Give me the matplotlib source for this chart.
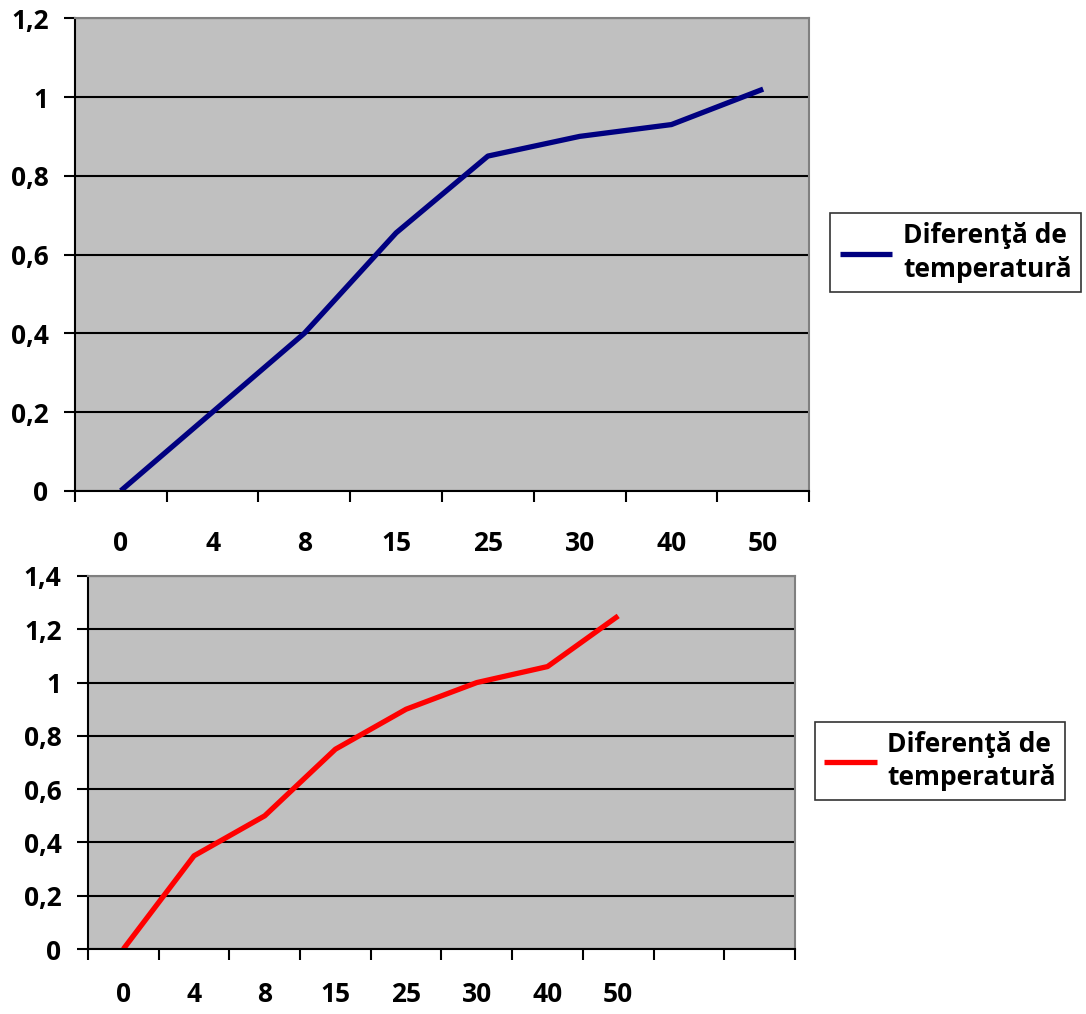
import matplotlib.pyplot as plt
import numpy as np

plt.rcParams['font.family'] = ['Open Sans', 'DejaVu Sans']
plt.rcParams['font.weight'] = 'bold'

# data
cats_top = ['0', '4', '8', '15', '25', '30', '40', '50']
vals_top = [0.0, 0.2, 0.40, 0.655, 0.85, 0.90, 0.93, 1.02]

cats_bot = ['0', '4', '8', '15', '25', '30', '40', '50', '', '']
vals_bot = [0.0, 0.35, 0.50, 0.75, 0.90, 1.00, 1.06, 1.25]

yticks_top = [0, 0.2, 0.4, 0.6, 0.8, 1.0, 1.2]
yticks_bot = [0, 0.2, 0.4, 0.6, 0.8, 1.0, 1.2, 1.4]

label = 'Diferenţă de\ntemperatură'

FS = 19

fig = plt.figure(figsize=(10.86, 10.14), dpi=100)


def fmt(v):
    s = ('%.1f' % v).replace('.', ',')
    if s.endswith(',0'):
        s = s[:-2]
    return s


def style(ax, cats, yticks, xpad):
    n = len(cats)
    ax.set_facecolor('#c0c0c0')
    ax.set_xlim(-0.5, n - 0.5)
    ax.set_ylim(yticks[0], yticks[-1])
    ax.set_axisbelow(True)
    ax.yaxis.grid(True, color='black', linewidth=1.5)
    ax.set_yticks(yticks)
    ax.set_yticklabels([fmt(v) for v in yticks], fontweight='bold', fontsize=FS)
    # boundary ticks, labels in the middle of each category
    ax.set_xticks(np.arange(n + 1) - 0.5)
    ax.set_xticklabels([])
    ax.set_xticks(np.arange(n), minor=True)
    ax.set_xticklabels(cats, minor=True, fontweight='bold', fontsize=FS)
    ax.tick_params(axis='x', which='major', direction='out', length=8, width=1.5, color='black')
    ax.tick_params(axis='x', which='minor', length=0, pad=xpad)
    ax.tick_params(axis='y', direction='out', length=8, width=1.5, pad=11)
    for s in ['top', 'right']:
        ax.spines[s].set_color('#808080')
        ax.spines[s].set_linewidth(1.5)
    for s in ['left', 'bottom']:
        ax.spines[s].set_color('black')
        ax.spines[s].set_linewidth(1.5)


def legend(ax, anchor):
    leg = ax.legend(loc='center left', bbox_to_anchor=anchor, frameon=True,
                    fancybox=False, prop={'size': FS, 'weight': 'bold'},
                    handlelength=2.0, borderpad=0.35, handletextpad=0.4,
                    borderaxespad=0)
    leg.get_frame().set_edgecolor('black')
    leg.get_frame().set_linewidth(1.2)
    for t in leg.get_texts():
        t.set_linespacing(1.3)
    return leg


ax1 = fig.add_axes([0.069, 0.516, 0.676, 0.466])
ax1.plot(np.arange(len(vals_top)), vals_top, color='#000080', linewidth=3.8,
         label=label, solid_capstyle='butt')
style(ax1, cats_top, yticks_top, 28)
legend(ax1, (1.029, 0.504))

ax2 = fig.add_axes([0.081, 0.064, 0.651, 0.368])
ax2.plot(np.arange(len(vals_bot)), vals_bot, color='#ff0000', linewidth=3.8,
         label=label, solid_capstyle='butt')
style(ax2, cats_bot, yticks_bot, 23)
legend(ax2, (1.028, 0.504))

fig.savefig('out.png', dpi=100)
